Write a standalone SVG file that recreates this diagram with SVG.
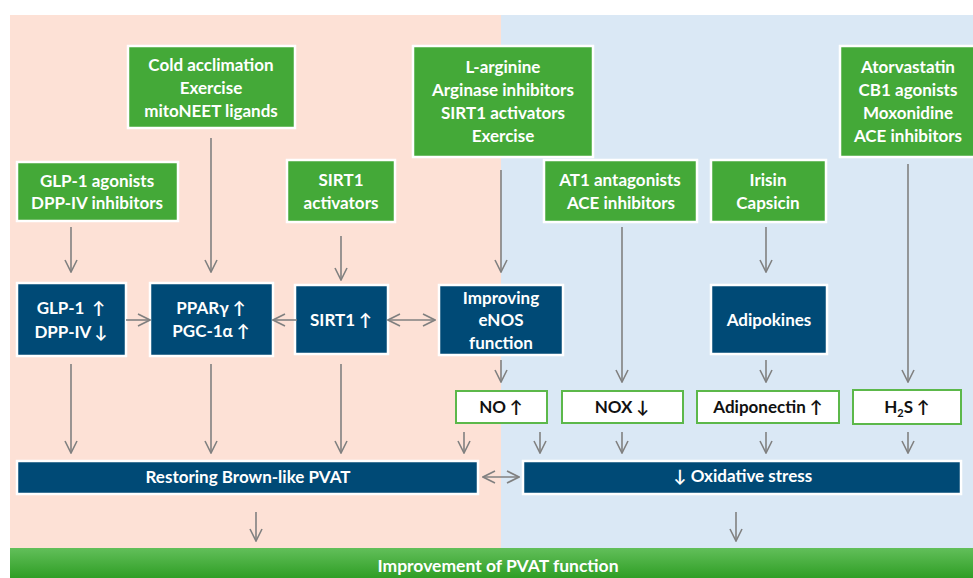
<svg xmlns="http://www.w3.org/2000/svg" width="973" height="578" viewBox="0 0 973 578">
<style>
text{font-family:Lato,"Open Sans","Liberation Sans",sans-serif;font-weight:bold;font-size:17px;text-anchor:middle}
.g{fill:#44a938;stroke:#fff;stroke-width:2.5}
.b{fill:#004a76;stroke:#fff;stroke-width:2.5}
.w{fill:#fff;stroke:#5cb84a;stroke-width:2}
.tw{fill:#fff}
.tk{fill:#111}
.c line{stroke:#808080;stroke-width:1.6;fill:none;marker-end:url(#ah)}
.c line.d{marker-start:url(#ah)}
</style>
<defs>
<marker id="ah" markerUnits="userSpaceOnUse" viewBox="0 0 14 14" refX="13" refY="7" markerWidth="14" markerHeight="14" orient="auto-start-reverse">
<path d="M1,1 L13,7 L1,13" fill="none" stroke="#808080" stroke-width="1.6"/>
</marker>
<linearGradient id="gb" x1="0" y1="0" x2="0" y2="1">
<stop offset="0" stop-color="#62bf5a"/>
<stop offset="1" stop-color="#2f9e25"/>
</linearGradient>
</defs>
<rect width="973" height="578" fill="#fff"/>
<rect x="10" y="15" width="491" height="533" fill="#fde1d6"/>
<rect x="501" y="15" width="472" height="533" fill="#dae8f5"/>

<g id="improvement">
<rect x="10" y="548" width="963" height="30" fill="url(#gb)"/>
<text class="tw" x="498" y="572" style="font-size:17.5px">Improvement of PVAT function</text>
</g>

<g id="cold">
<rect class="g" x="128" y="46" width="167" height="82"/>
<text class="tw" x="211" y="71">Cold acclimation</text>
<text class="tw" x="211" y="94">Exercise</text>
<text class="tw" x="211" y="117">mitoNEET ligands</text>
</g>
<g id="glp1ag">
<rect class="g" x="17" y="162" width="161" height="59"/>
<text class="tw" x="97" y="187">GLP-1 agonists</text>
<text class="tw" x="97" y="209">DPP-IV inhibitors</text>
</g>
<g id="sirt1act">
<rect class="g" x="287" y="160" width="108" height="62"/>
<text class="tw" x="341" y="186">SIRT1</text>
<text class="tw" x="341" y="209">activators</text>
</g>
<g id="larg">
<rect class="g" x="413" y="46" width="180" height="111"/>
<text class="tw" x="503" y="73">L-arginine</text>
<text class="tw" x="503" y="96">Arginase inhibitors</text>
<text class="tw" x="503" y="119">SIRT1 activators</text>
<text class="tw" x="503" y="142">Exercise</text>
</g>
<g id="at1">
<rect class="g" x="544" y="160" width="153" height="62"/>
<text class="tw" x="620" y="186">AT1 antagonists</text>
<text class="tw" x="621" y="209">ACE inhibitors</text>
</g>
<g id="irisin">
<rect class="g" x="711" y="160" width="115" height="62"/>
<text class="tw" x="768" y="186">Irisin</text>
<text class="tw" x="768" y="209">Capsicin</text>
</g>
<g id="atorva">
<rect class="g" x="840" y="46" width="136" height="111"/>
<text class="tw" x="908" y="73">Atorvastatin</text>
<text class="tw" x="908" y="96">CB1 agonists</text>
<text class="tw" x="908" y="119">Moxonidine</text>
<text class="tw" x="908" y="142">ACE inhibitors</text>
</g>

<g id="glp1">
<rect class="b" x="17" y="283" width="109" height="73"/>
<text class="tw" x="71" y="314">GLP-1&#160;&#160;↑</text>
<text class="tw" x="71" y="338">DPP-IV ↓</text>
</g>
<g id="ppar">
<rect class="b" x="150" y="283" width="123" height="73"/>
<text class="tw" x="211" y="314">PPARγ ↑</text>
<text class="tw" x="211" y="337">PGC-1α ↑</text>
</g>
<g id="sirt1">
<rect class="b" x="295" y="285" width="93" height="69"/>
<text class="tw" x="341" y="326">SIRT1 ↑</text>
</g>
<g id="enos">
<rect class="b" x="439" y="285" width="124" height="70"/>
<text class="tw" x="501" y="304">Improving</text>
<text class="tw" x="501" y="326">eNOS</text>
<text class="tw" x="501" y="349">function</text>
</g>
<g id="adipokines">
<rect class="b" x="711" y="285" width="116" height="69"/>
<text class="tw" x="769" y="326">Adipokines</text>
</g>

<g id="no">
<rect class="w" x="456" y="391" width="91" height="32"/>
<text class="tk" x="501" y="413">NO ↑</text>
</g>
<g id="nox">
<rect class="w" x="562" y="391" width="121" height="32"/>
<text class="tk" x="622" y="413">NOX ↓</text>
</g>
<g id="adiponectin">
<rect class="w" x="697" y="391" width="142" height="32"/>
<text class="tk" x="768" y="413">Adiponectin ↑</text>
</g>
<g id="h2s">
<rect class="w" x="853" y="390" width="108" height="34"/>
<text class="tk" x="907" y="413">H<tspan font-size="11" dy="4">2</tspan><tspan dy="-4">S ↑</tspan></text>
</g>

<g id="restoring">
<rect class="b" x="17" y="461" width="461" height="33"/>
<text class="tw" x="248" y="483">Restoring Brown-like PVAT</text>
</g>
<g id="oxidative">
<rect class="b" x="523" y="461" width="438" height="33"/>
<text class="tw" x="743" y="482">↓ Oxidative stress</text>
</g>

<g class="c" id="connectors">
<line x1="71" y1="227" x2="71" y2="272"/>
<line x1="211" y1="138" x2="211" y2="272"/>
<line x1="341" y1="236" x2="341" y2="280"/>
<line x1="501" y1="170" x2="501" y2="272"/>
<line x1="622" y1="227" x2="622" y2="382"/>
<line x1="766" y1="227" x2="766" y2="272"/>
<line x1="908" y1="164" x2="908" y2="382"/>
<line x1="126" y1="320" x2="150" y2="320"/>
<line x1="297" y1="320" x2="273" y2="320"/>
<line class="d" x1="388" y1="320" x2="435" y2="320"/>
<line x1="501" y1="360" x2="501" y2="382"/>
<line x1="766" y1="360" x2="766" y2="382"/>
<line x1="71" y1="364" x2="71" y2="453"/>
<line x1="211" y1="364" x2="211" y2="453"/>
<line x1="341" y1="364" x2="341" y2="453"/>
<line x1="464" y1="432" x2="464" y2="453"/>
<line x1="540" y1="432" x2="540" y2="453"/>
<line x1="622" y1="432" x2="622" y2="453"/>
<line x1="766" y1="432" x2="766" y2="453"/>
<line x1="908" y1="432" x2="908" y2="453"/>
<line class="d" x1="483" y1="477" x2="519" y2="477"/>
<line x1="256" y1="512" x2="256" y2="541"/>
<line x1="736" y1="512" x2="736" y2="541"/>
</g>
</svg>
